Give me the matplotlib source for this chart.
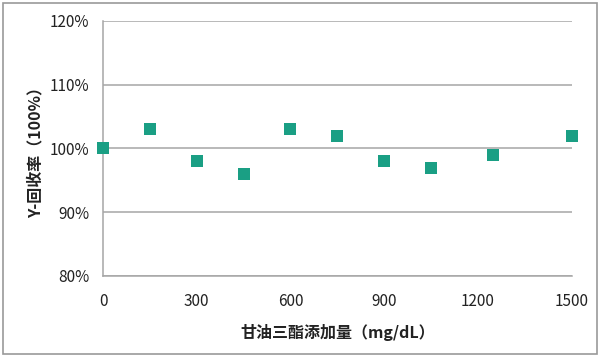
import matplotlib
matplotlib.use("Agg")
import matplotlib.pyplot as plt
from matplotlib.patches import Rectangle

plt.rcParams['font.family'] = ['Noto Sans CJK SC', 'DejaVu Sans']

x_vals = [0, 150, 300, 450, 600, 750, 900, 1050, 1250, 1500]
recovery = [100, 103, 98, 96, 103, 102, 98, 97, 99, 102]
x_ticks = [0, 300, 600, 900, 1200, 1500]
y_ticks = [80, 90, 100, 110, 120]
y_ticklabels = ['80%', '90%', '100%', '110%', '120%']
xlabel = '甘油三酯添加量（mg/dL）'
ylabel = 'Y-回收率（100%）'

fig = plt.figure(figsize=(6, 3.57), dpi=100)
ax = fig.add_axes([0.1717, 0.2269, 0.7808, 0.7143])

grid_c = '#a6a6a6'
ax.set_xlim(0, 1500)
ax.set_ylim(80, 120)
ax.set_yticks(y_ticks)
ax.set_yticklabels(y_ticklabels)
ax.set_xticks(x_ticks)
ax.yaxis.grid(True, color=grid_c, linewidth=1.1)
ax.set_axisbelow(True)
for s in ['top', 'right']:
    ax.spines[s].set_visible(False)
for s in ['left', 'bottom']:
    ax.spines[s].set_color(grid_c)
    ax.spines[s].set_linewidth(1.1)
ax.tick_params(length=0, labelsize=11, labelcolor='#222222')
ax.tick_params(axis='x', pad=12)
ax.tick_params(axis='y', pad=10)

ax.scatter(x_vals, recovery, marker='s', s=78, color='#1a9f84', linewidths=0,
           clip_on=False, zorder=3)

ax.set_xlabel(xlabel, fontsize=11.5, fontweight='bold', color='#222222', labelpad=10)
ax.set_ylabel(ylabel, fontsize=11.5, fontweight='bold', color='#222222', labelpad=4)

fig.patches.append(Rectangle((3/600, 3/357), 594/600, 351/357, transform=fig.transFigure,
                             fill=False, edgecolor='#999999', linewidth=1.2))

fig.savefig('out.png', dpi=100)
